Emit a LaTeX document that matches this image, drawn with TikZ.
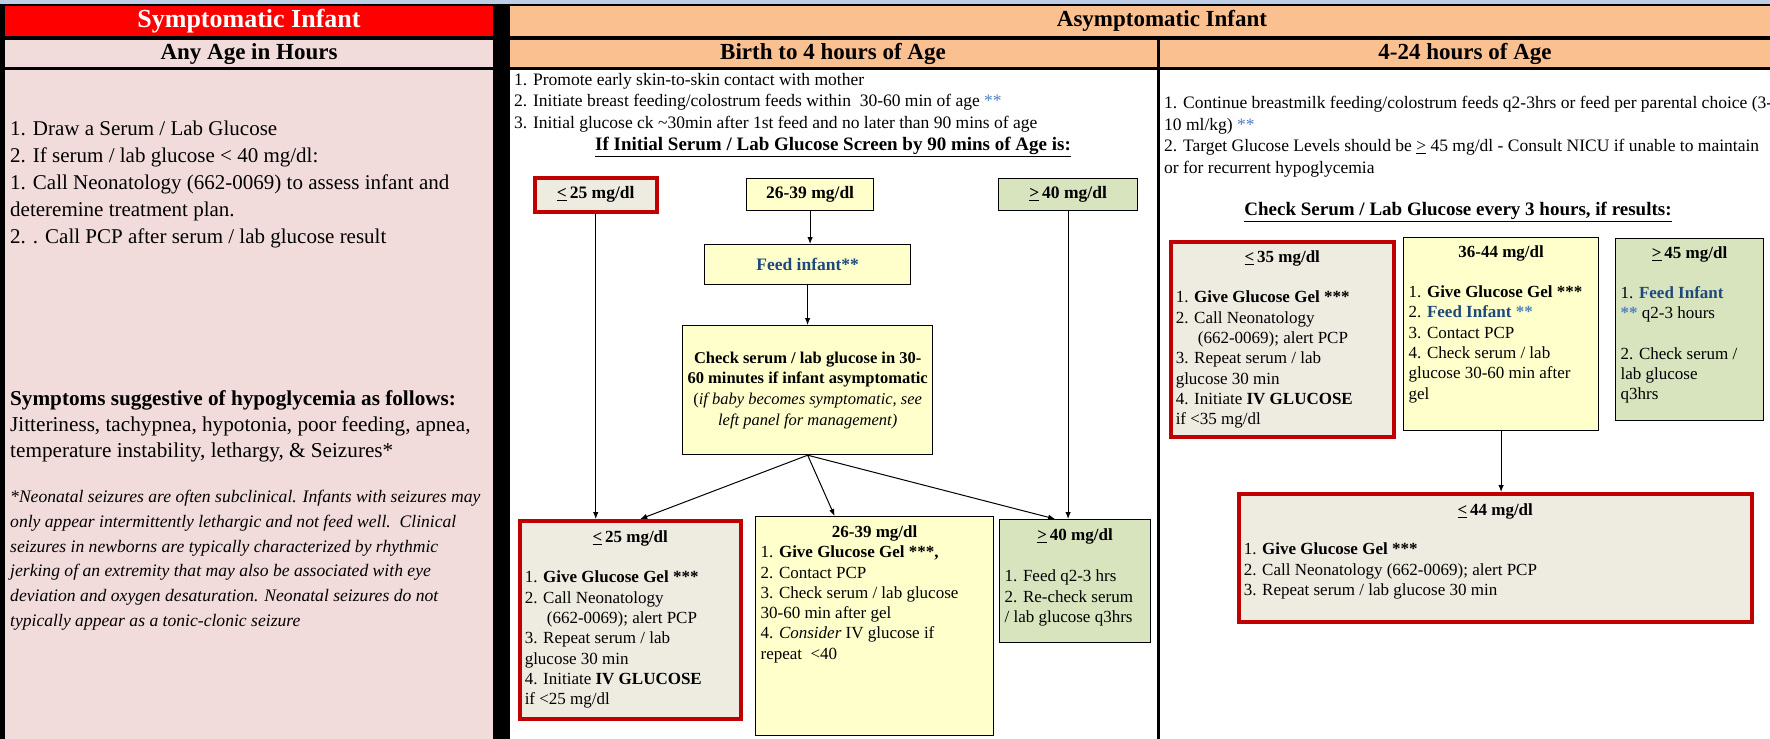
\documentclass[tikz,border=0pt]{standalone}
\usepackage{fontspec}
\setmainfont{Liberation Serif}
\usepackage{tikz}
\usetikzlibrary{arrows.meta, positioning}
\usepackage{xcolor}
\definecolor{stripblue}{RGB}{190,206,228}
\definecolor{hdrred}{RGB}{255,0,0}
\definecolor{panelpink}{RGB}{242,220,219}
\definecolor{hdrorange}{RGB}{250,192,144}
\definecolor{cellbeige}{RGB}{238,236,225}
\definecolor{cellyellow}{RGB}{255,255,204}
\definecolor{cellgreen}{RGB}{215,228,189}
\definecolor{alertred}{RGB}{192,0,0}
\definecolor{feedblue}{RGB}{31,73,125}
\definecolor{starblue}{RGB}{79,129,189}
\newcommand{\cellbody}[3]{\parbox[t][#2][t]{#1}{#3}}
\newcommand{\bluestar}[1]{\textcolor{starblue}{#1}}

\begin{document}
\begin{tikzpicture}[x=1pt, y=-1pt,
    hdr/.style={font=\fontsize{23}{27}\selectfont\bfseries, inner sep=0pt},
    body/.style={font=\fontsize{21}{27}\selectfont, align=left, anchor=north west, inner sep=0pt},
    note/.style={font=\fontsize{17.5}{21.5}\selectfont, align=left, anchor=north west, inner sep=0pt},
    heading/.style={font=\fontsize{19}{22}\selectfont\bfseries, inner sep=0pt},
    cell/.style={draw=black, line width=1.2pt, anchor=north west, inner sep=5pt,
                 font=\fontsize{17}{20.3}\selectfont},
    redcell/.style={cell, draw=alertred, line width=3.5pt, fill=cellbeige},
    yelcell/.style={cell, fill=cellyellow},
    grncell/.style={cell, fill=cellgreen},
    tag/.style={font=\fontsize{17.5}{20}\selectfont\bfseries, inner sep=0pt},
    arrow/.style={-{Latex[length=7pt, width=5.5pt]}, line width=1pt}
]
\useasboundingbox (0,0) rectangle (1770,739);

% Panels
\fill[stripblue] (0,0) rectangle (1770,4);
\fill[black] (0,4) rectangle (1770,739);
\fill[hdrred] (5,6) rectangle (493,36);
\fill[panelpink] (5,40) rectangle (493,67);
\fill[panelpink] (5,70) rectangle (493,739);
\fill[hdrorange] (510,6) rectangle (1770,36);
\fill[hdrorange] (510,40) rectangle (1157,67);
\fill[hdrorange] (1160,40) rectangle (1770,67);
\fill[white] (510,70) rectangle (1157,739);
\fill[white] (1160,70) rectangle (1770,739);

% Headers
\node[hdr, text=white, font=\fontsize{26}{30}\selectfont\bfseries] (symp) at (249,21) {Symptomatic Infant};
\node[hdr] (anyage) at (249,54) {Any Age in Hours};
\node[hdr] (asymp) at (1162,21) {Asymptomatic Infant};
\node[hdr] (birth) at (833,54) {Birth to 4 hours of Age};
\node[hdr] (later) at (1465,54) {4-24 hours of Age};

% Left panel
\node[body] (steps) at (10,121) {1. Draw a Serum / Lab Glucose\\
  2. If serum / lab glucose < 40 mg/dl:\\
  1. Call Neonatology (662-0069) to assess infant and\\
  deteremine treatment plan.\\
  2. . Call PCP after serum / lab glucose result};
\node[body, font=\fontsize{21.2}{26}\selectfont] (signs) at (10,390) {\textbf{Symptoms suggestive of hypoglycemia as follows:}\\
  Jitteriness, tachypnea, hypotonia, poor feeding, apnea,\\
  temperature instability, lethargy, \& Seizures*};
\node[body, font=\fontsize{17.6}{24.8}\selectfont\itshape] (seizure) at (10,490) {*Neonatal seizures are often subclinical. Infants with seizures may\\
  only appear intermittently lethargic and not feed well.\ \ Clinical\\
  seizures in newborns are typically characterized by rhythmic\\
  jerking of an extremity that may also be associated with eye\\
  deviation and oxygen desaturation. Neonatal seizures do not\\
  typically appear as a tonic-clonic seizure};

% Birth to 4 hours
\node[note] (birthsteps) at (514,73) {1. Promote early skin-to-skin contact with mother\\
  2. Initiate breast feeding/colostrum feeds within\ \ 30-60 min of age \bluestar{**}\\
  3. Initial glucose ck \textasciitilde30min after 1st feed and no later than 90 mins of age};
\node[heading] (screen) at (833,147) {\underline{If Initial Serum / Lab Glucose Screen by 90 mins of Age is:}};

\node[redcell, tag, minimum width=122pt, minimum height=34pt] (t25) at (533,176) {\underline{<}\,25 mg/dl};
\node[yelcell, tag, minimum width=127pt, minimum height=32pt] (t26) at (746,178) {26-39 mg/dl};
\node[grncell, tag, minimum width=139pt, minimum height=32pt] (t40) at (998,178) {\underline{>}\,40 mg/dl};
\node[yelcell, tag, minimum width=206pt, minimum height=40pt, text=feedblue] (feed) at (704,244) {Feed infant**};
\node[yelcell, minimum width=250pt, minimum height=129pt, align=center,
      font=\fontsize{16.5}{20.7}\selectfont] (check) at (682,325)
  {\textbf{Check serum / lab glucose in 30-}\\\textbf{60 minutes if infant asymptomatic}\\
   (\textit{if baby becomes symptomatic, see}\\\textit{left panel for management)}};

\node[redcell] (b25) at (518,519) {\cellbody{211pt}{188pt}{\vspace*{5pt}\centering
  \textbf{\underline{<}\,25 mg/dl}\par\vspace{20pt}\raggedright
  1. \textbf{Give Glucose Gel ***}\\2. Call Neonatology\\\hspace*{1.3em}(662-0069); alert PCP\\
  3. Repeat serum / lab\\glucose 30 min\\4. Initiate \textbf{IV GLUCOSE}\\if <25 mg/dl}};
\node[yelcell] (b26) at (755,516) {\cellbody{228pt}{209pt}{\vspace*{4pt}\centering
  \textbf{26-39 mg/dl}\par\raggedright
  1. \textbf{Give Glucose Gel ***,}\\2. Contact PCP\\3. Check serum / lab glucose\\
  30-60 min after gel\\4. \textit{Consider} IV glucose if\\repeat\ \ <40}};
\node[grncell] (b40) at (999,519) {\cellbody{141pt}{113pt}{\vspace*{4pt}\centering
  \textbf{\underline{>}\,40 mg/dl}\par\vspace{21pt}\raggedright
  1. Feed q2-3 hrs\\2. Re-check serum\\/ lab glucose q3hrs}};

% 4-24 hours
\node[note, font=\fontsize{17.5}{21.7}\selectfont] (latersteps) at (1164,96) {1. Continue breastmilk feeding/colostrum feeds q2-3hrs or feed per parental choice (3-\\
  10 ml/kg) \bluestar{**}\\
  2. Target Glucose Levels should be \underline{>} 45 mg/dl - Consult NICU if unable to maintain\\
  or for recurrent hypoglycemia};
\node[heading] (recheck) at (1458,212) {\underline{Check Serum / Lab Glucose every 3 hours, if results:}};

\node[redcell] (r35) at (1169,240) {\cellbody{213pt}{185pt}{\vspace*{4pt}\centering
  \textbf{\underline{<}\,35 mg/dl}\par\vspace{20pt}\raggedright
  1. \textbf{Give Glucose Gel ***}\\2. Call Neonatology\\\hspace*{1.3em}(662-0069); alert PCP\\
  3. Repeat serum / lab\\glucose 30 min\\4. Initiate \textbf{IV GLUCOSE}\\if <35 mg/dl}};
\node[yelcell] (r36) at (1403,237) {\cellbody{185pt}{183pt}{\vspace*{3pt}\centering
  \textbf{36-44 mg/dl}\par\vspace{20pt}\raggedright
  1. \textbf{Give Glucose Gel ***}\\2. \textbf{\textcolor{feedblue}{Feed Infant} \bluestar{**}}\\
  3. Contact PCP\\4. Check serum / lab\\glucose 30-60 min after\\gel}};
\node[grncell] (r45) at (1615,238) {\cellbody{138pt}{172pt}{\vspace*{3pt}\centering
  \textbf{\underline{>}\,45 mg/dl}\par\vspace{20pt}\raggedright
  1. \textbf{\textcolor{feedblue}{Feed Infant}}\\\textbf{\bluestar{**}} q2-3 hours\\[20pt]
  2. Check serum /\\lab glucose\\q3hrs}};
\node[redcell] (r44) at (1237,492) {\cellbody{503pt}{118pt}{\vspace*{5pt}\centering
  \textbf{\underline{<}\,44 mg/dl}\par\vspace{19pt}\raggedright
  1. \textbf{Give Glucose Gel ***}\\2. Call Neonatology (662-0069); alert PCP\\
  3. Repeat serum / lab glucose 30 min}};

% Connectors
\draw[arrow] (t25.south) -- (t25.south |- b25.north);
\draw[arrow] (t26.south) -- (t26.south |- feed.north);
\draw[arrow] (feed.south) -- (feed.south |- check.north);
\draw[arrow] (t40.south) -- (t40.south |- b40.north);
\draw[arrow] (check.south) -- ([xshift=10pt]b25.north);
\draw[arrow] (check.south) -- ([xshift=-40pt]b26.north);
\draw[arrow] (check.south) -- ([xshift=-20pt]b40.north);
\draw[arrow] (r36.south) -- (r36.south |- r44.north);
\end{tikzpicture}
\end{document}
